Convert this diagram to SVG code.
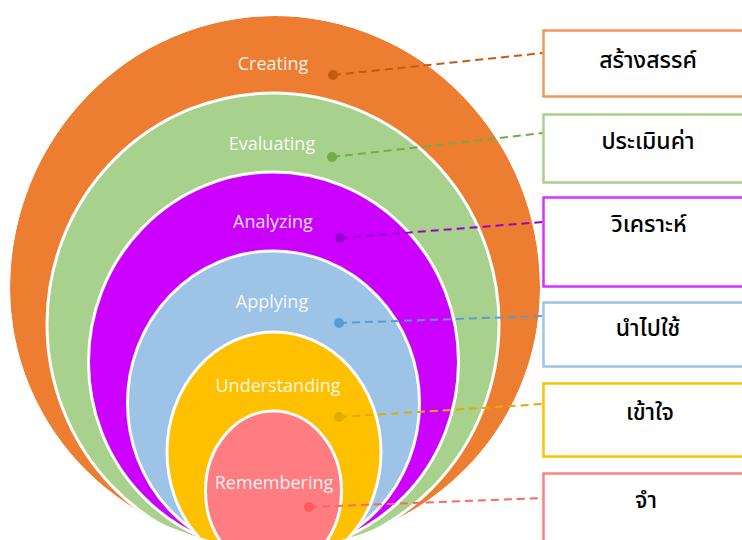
<svg xmlns="http://www.w3.org/2000/svg" width="742" height="540" viewBox="0 0 742 540">
<style>
.ring{stroke:#ffffff;stroke-width:3}
.lbl{font-family:"Open Sans","Noto Sans",sans-serif;font-size:18px;fill:#ffffff;fill-opacity:0.92;text-anchor:middle}
.box{fill:#ffffff;stroke-width:2.5}
.th{font-family:"Noto Sans Thai","Leelawadee UI","Noto Sans",sans-serif;font-size:23px;font-weight:500;fill:#000000;text-anchor:middle}
.con{fill:none;stroke-width:2;stroke-dasharray:8 5}
</style>
<defs>
<clipPath id="outer"><path d="M10 288 A265 272 0 0 1 540 288 A265 260 0 0 1 10 288 Z"/></clipPath>
</defs>
<rect width="742" height="540" fill="#ffffff"/>
<g clip-path="url(#outer)">
<g id="creating"><path d="M10 288 A265 272 0 0 1 540 288 A265 260 0 0 1 10 288 Z" fill="#ED7D31"/><text class="lbl" x="273" y="70">Creating</text></g>
<g id="evaluating"><ellipse class="ring" cx="273" cy="324" rx="226" ry="231" fill="#A9D18E"/><text class="lbl" x="272" y="150">Evaluating</text></g>
<g id="analyzing"><ellipse class="ring" cx="273.5" cy="362" rx="185" ry="190" fill="#CC00FF"/><text class="lbl" x="273" y="228">Analyzing</text></g>
<g id="applying"><ellipse class="ring" cx="273.5" cy="403" rx="146" ry="152" fill="#9DC3E6"/><text class="lbl" x="272" y="308">Applying</text></g>
<g id="understanding"><ellipse class="ring" cx="274" cy="452" rx="107" ry="120" fill="#FFC000"/><text class="lbl" x="278" y="392">Understanding</text></g>
<g id="remembering"><ellipse class="ring" cx="273.5" cy="491" rx="68" ry="80" fill="#FF7C80"/><text class="lbl" x="274" y="489">Remembering</text></g>
</g>
<g id="connectors">
<line class="con" x1="333" y1="75" x2="543" y2="53" stroke="#C55A11"/>
<line class="con" x1="332" y1="157" x2="543" y2="133" stroke="#70AD47"/>
<line class="con" x1="340" y1="238" x2="543" y2="222" stroke="#9900CC"/>
<line class="con" x1="339" y1="323" x2="543" y2="316" stroke="#5B9BD5"/>
<line class="con" x1="339" y1="417" x2="543" y2="404" stroke="#E0AC00"/>
<line class="con" x1="309" y1="507" x2="543" y2="498" stroke="#FF6666"/>
<circle cx="333" cy="75" r="5" fill="#C55A11"/>
<circle cx="332" cy="157" r="5" fill="#70AD47"/>
<circle cx="340" cy="238" r="5" fill="#9900CC"/>
<circle cx="339" cy="323" r="5" fill="#5B9BD5"/>
<circle cx="339" cy="417" r="5" fill="#E0AC00"/>
<circle cx="309" cy="507" r="5" fill="#FF5A5F"/>
</g>
<g id="box-creating"><rect class="box" x="543.5" y="30.5" width="210" height="66" stroke="#F4955A"/><text class="th" x="648" y="68">สร้างสรรค์</text></g>
<g id="box-evaluating"><rect class="box" x="543.5" y="114.5" width="210" height="68" stroke="#A9D18E"/><text class="th" x="648" y="149">ประเมินค่า</text></g>
<g id="box-analyzing"><rect class="box" x="543.5" y="197.5" width="210" height="89" stroke="#D633FF"/><text class="th" x="649" y="232">วิเคราะห์</text></g>
<g id="box-applying"><rect class="box" x="543.5" y="302.5" width="210" height="64" stroke="#9DC3E6"/><text class="th" x="648" y="336">นำไปใช้</text></g>
<g id="box-understanding"><rect class="box" x="543.5" y="383.5" width="210" height="73" stroke="#FFC000"/><text class="th" x="650" y="420">เข้าใจ</text></g>
<g id="box-remembering"><rect class="box" x="543.5" y="473.5" width="210" height="80" stroke="#FF8080"/><text class="th" x="646" y="508">จำ</text></g>
</svg>
